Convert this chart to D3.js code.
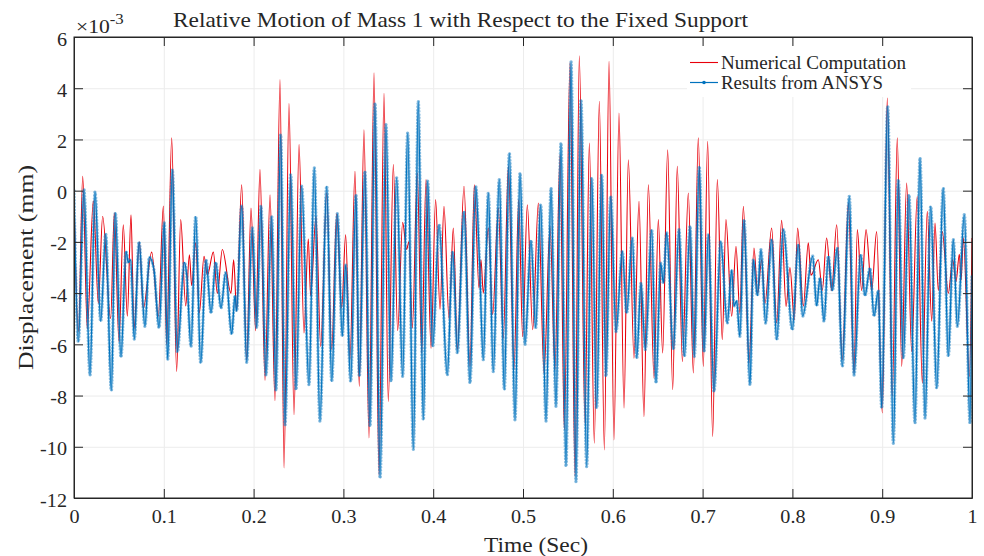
<!DOCTYPE html>
<html>
<head>
<meta charset="utf-8">
<script src="https://cdn.jsdelivr.net/npm/d3@7"></script>
<style>
body { margin: 0; background: #fff; }
text { font-family: "Liberation Serif", "Times New Roman", serif; fill: #262626; }
</style>
</head>
<body>
<svg id="chart" width="984" height="556"></svg>
<script>
// ticks
const xTicks = [0, 0.1, 0.2, 0.3, 0.4, 0.5, 0.6, 0.7, 0.8, 0.9, 1];
const yTicks = [6, 4, 2, 0, -2, -4, -6, -8, -10, -12];

const titleText = "Relative Motion of Mass 1 with Respect to the Fixed Support";
const xLabel = "Time (Sec)";
const yLabel = "Displacement (mm)";
const seriesNames = ["Numerical Computation", "Results from ANSYS"];

// [time (s), displacement (x1e-3 mm)] (turning points)
const numericalPts = [
  [0,-0.3],[0.005,-5.5],[0.0097,0.56],[0.0148,-5.4],[0.0215,-0.4],[0.0271,-4.4],[0.0319,-1.0],[0.0408,-5.0],[0.0449,-0.86],[0.0501,-5.9],
  [0.0549,-1.33],[0.0594,-4.9],[0.0635,-0.94],[0.0668,-5.4],[0.0728,-2.0],[0.0772,-4.6],[0.0865,-2.4],[0.0939,-4.9],[0.0995,-0.6],
  [0.1032,-6.0],[0.1088,2.06],[0.1143,-7.06],[0.1188,-1.13],[0.1244,-4.5],[0.1285,-2.5],[0.131,-3.7],[0.1355,-2.04],[0.1396,-4.77],
  [0.1448,-2.56],[0.1485,-3.3],[0.1552,-2.4],[0.1596,-4.0],[0.1652,-2.3],[0.1748,-4.0],[0.1778,-2.7],[0.1811,-4.7],[0.1867,0.23],
  [0.1923,-6.6],[0.1971,-0.68],[0.2023,-5.47],[0.2071,0.82],
  [0.2127,-7.4],[0.2183,-0.16],[0.2238,-8.2],[0.2294,4.34],[0.2339,-10.83],[0.2394,3.4],[0.245,-8.75],[0.2506,1.8],[0.2561,-5.56],
  [0.2609,-1.89],[0.2635,-4.1],[0.2695,-1.0],[0.2747,-6.08],[0.2814,-0.09],[0.287,-6.2],[0.2925,-0.9],[0.2981,-4.58],[0.3025,-1.72],
  [0.3073,-6.6],[0.3129,0.76],[0.3177,-7.64],
  [0.3229,2.38],[0.3285,-9.66],[0.3341,4.6],[0.3396,-11.1],[0.3452,3.8],[0.35,-8.23],[0.3556,1.02],[0.3604,-5.47],[0.366,-1.24],
  [0.3704,-2.3],[0.373,-2.0],[0.3768,-5.36],[0.3823,0.69],[0.3872,-6.34],[0.392,0.43],[0.3976,-6.15],[0.4027,-0.35],[0.4076,-4.64],
  [0.412,-0.61],[0.4176,-5.0],[0.4224,-1.46],
  [0.4269,-6.2],[0.4343,0.17],[0.441,-6.86],[0.4458,0.23],[0.451,-3.8],[0.4532,-2.7],[0.4558,-4.0],[0.4614,-1.46],[0.4662,-4.84],
  [0.4725,-0.68],[0.4781,-5.76],[0.4837,0.95],[0.49,-6.99],[0.4952,-0.35],[0.4996,-5.7],[0.5048,-0.55],[0.5108,-5.43],[0.5171,-0.48],
  [0.5234,-7.12],
  [0.5301,-1.39],[0.5356,-6.99],[0.5412,1.41],[0.546,-9.34],[0.5523,4.99],[0.5579,-11.16],[0.5627,5.27],[0.569,-9.08],[0.5739,1.86],
  [0.5794,-9.86],[0.585,3.49],[0.5906,-10.12],[0.5958,5.05],[0.6013,-9.73],[0.6069,3.03],[0.6125,-8.49],[0.6173,1.21],[0.6236,-6.54],
  [0.6292,-0.42],[0.6347,-8.82],
  [0.6396,0.23],[0.6459,-7.32],[0.6507,-1.13],[0.6555,-6.34],[0.6611,1.6],[0.6667,-7.77],[0.6718,0.95],[0.6775,-6.67],[0.6841,-0.09],
  [0.6897,-7.12],[0.6952,2.06],[0.7008,-6.86],[0.7056,1.93],[0.7112,-9.6],[0.7164,0.43],[0.7219,-5.82],[0.726,-1.13],[0.7324,-4.9],
  [0.7372,-2.17],
  [0.7415,-4.78],[0.7454,-0.61],[0.7517,-6.73],[0.7572,-2.24],[0.7613,-4.0],[0.7658,-2.7],[0.7695,-4.4],[0.7769,-1.46],[0.7825,-5.17],
  [0.788,-1.16],[0.7929,-4.52],[0.7973,-3.0],[0.8021,-5.04],[0.8058,-1.46],[0.8122,-4.5],[0.8177,-2.04],[0.8207,-3.3],[0.8289,-2.7],
  [0.8333,-3.9],[0.8381,-1.85],[0.8437,-3.9],
  [0.8493,-1.33],[0.8556,-6.6],[0.8623,-0.48],[0.8686,-7.12],[0.8723,-1.52],[0.8771,-3.9],[0.882,-1.52],[0.8883,-3.9],[0.8938,-1.6],
  [0.9001,-8.68],[0.9057,3.62],[0.9112,-8.03],[0.9168,2.06],[0.9217,-6.86],[0.9272,0.3],[0.9328,-6.28],[0.939,-0.22],[0.9447,-7.51],
  [0.9502,-0.81],[0.9551,-5.1],[0.9588,-1.26],[0.9625,-3.9],[0.9669,-1.6],[0.9736,-4.0],[0.9785,-2.7],[0.9822,-3.55],[0.9859,-2.48],
  [0.9878,-3.5],[0.9904,-1.85],[0.9971,-7.25],[1.0,-1.85]
];

const ansysPts = [
  [0,0],[0.0048,-5.9],[0.0111,0.04],[0.0178,-7.2],[0.0234,-0.05],[0.0297,-5.1],[0.0353,-1.7],[0.0416,-7.8],[0.046,-0.86],[0.0523,-6.5],
  [0.0579,-2.37],[0.0605,-2.8],[0.063,-2.7],[0.0672,-5.8],[0.0724,-2.0],[0.079,-5.3],[0.0839,-2.6],[0.0891,-3.1],[0.0947,-5.35],
  [0.1006,-1.26],
  [0.1043,-6.6],[0.1095,0.82],[0.115,-6.3],[0.1229,-2.8],[0.1255,-3.3],[0.1303,-6.08],[0.1355,-1.0],[0.1411,-6.73],[0.147,-2.7],
  [0.1526,-4.78],[0.1578,-2.8],[0.1637,-4.58],[0.1689,-3.2],[0.1756,-5.6],[0.1793,-4.1],[0.1811,-4.7],[0.1867,-0.6],[0.1923,-6.7],
  [0.1986,-1.46],[0.2034,-5.35],[0.2082,-0.6],
  [0.2138,-7.2],[0.2201,-1.0],[0.2249,-7.8],[0.2301,2.19],[0.235,-9.14],[0.2413,0.63],[0.2472,-7.77],[0.2535,0.17],[0.2617,-7.58],
  [0.2676,0.89],[0.2739,-9.0],[0.2814,0.17],[0.287,-7.45],[0.2933,-0.9],[0.2988,-5.69],[0.3025,-2.9],[0.3081,-7.45],[0.314,-0.16],
  [0.3177,-7.25],[0.324,0.76],[0.3296,-9.2],[0.3352,3.42],[0.3408,-11.22],[0.3474,2.58],[0.353,-7.45],[0.3593,0.5],[0.366,-7.25],
  [0.3716,2.25],[0.3779,-10.1],[0.3834,3.49],[0.389,-8.95],[0.3938,0.37],[0.3994,-6.08],[0.4065,-1.33],[0.4157,-7.19],[0.4217,-2.37],
  [0.4269,-6.34],[0.4343,-0.81],[0.441,-7.51],[0.4473,0.17],[0.4514,-2.6],[0.4558,-6.6],[0.4614,-0.09],[0.4669,-7.06],[0.4736,0.43],
  [0.4792,-7.77],[0.4848,1.47],[0.4911,-8.95],[0.4967,0.69],[0.5022,-6.0],[0.5089,-1.94],[0.5141,-5.35],[0.5197,-0.55],[0.5256,-9.0],
  [0.5312,0.1],[0.5367,-8.42],[0.5423,1.86],[0.5479,-10.77],[0.5535,5.03],[0.559,-11.36],[0.5646,3.55],[0.5709,-10.77],[0.5765,0.5],
  [0.582,-8.49],[0.5876,0.63],[0.5924,-7.25],[0.5976,-0.22],[0.6036,-5.5],[0.6106,-2.37],[0.6154,-4.78],[0.6218,-1.85],[0.6266,-6.54],
  [0.6314,-3.61],
  [0.6362,-6.2],[0.6433,-1.52],[0.6481,-7.51],[0.6533,-2.83],[0.6563,-3.6],[0.66,-1.65],[0.6674,-6.2],[0.6737,-1.52],[0.6797,-6.47],
  [0.686,-1.39],[0.6908,-6.47],[0.6963,0.95],[0.7016,-6.3],[0.7064,-1.72],[0.7127,-7.84],[0.7201,-1.98],[0.7275,-5.17],[0.7324,-3.09],
  [0.735,-4.5],[0.7379,-4.3],
  [0.7415,-5.69],[0.7461,-1.13],[0.7528,-7.58],[0.7565,-2.7],[0.761,-4.1],[0.765,-2.3],[0.7702,-5.17],[0.7769,-1.91],[0.7825,-5.82],
  [0.7899,-1.52],[0.7999,-5.43],[0.8066,-2.1],[0.8114,-4.9],[0.8226,-2.56],[0.827,-4.5],[0.8307,-3.4],[0.8352,-5.1],[0.84,-2.56],
  [0.8445,-3.9],
  [0.85,-2.24],[0.8556,-6.86],[0.8634,-0.22],[0.8686,-7.2],[0.876,-2.5],[0.8808,-4.1],[0.8864,-3.02],[0.8909,-4.9],[0.8957,-3.9],
  [0.8994,-8.49],[0.9061,3.29],[0.9124,-9.86],[0.9179,0.43],[0.9235,-6.54],[0.9298,-0.16],[0.9365,-9.08],[0.9421,1.28],[0.9477,-8.88],
  [0.954,-0.61],[0.9607,-7.71],[0.968,0.1],[0.9736,-6.47],[0.9792,-1.91],[0.9837,-5.3],[0.9915,-0.94],[0.9978,-9.08],[1.0,-3.3]
];

const SX = 1.12; // tick glyphs look a little wide in the picture
const redColor = "#e8000b";
const blueColor = "#0072bd";
const axisColor = "#262626";
const gridColor = "#ececec";

var svg = d3.select("#chart");
var x = d3.scaleLinear().domain([0, 1]).range([74, 972]);
var y = d3.scaleLinear().domain([-12, 6]).range([498, 37]);
const plotW = 898, plotH = 461;

function stretchTicks(g) {
    g.selectAll(".tick text").each(function () {
        const t = d3.select(this);
        const tx = +t.attr("x") || 0, ty = +t.attr("y") || 0;
        t.attr("x", 0).attr("y", 0).attr("transform", `translate(${tx},${ty}) scale(${SX},1)`);
    });
}

// grid
svg.append("g").attr("class", "grid").attr("transform", "translate(0,498)")
    .call(d3.axisBottom(x).tickValues(xTicks).tickSize(-plotH).tickFormat(""));
svg.append("g").attr("class", "grid").attr("transform", "translate(74,0)")
    .call(d3.axisLeft(y).tickValues(yTicks).tickSize(-plotW).tickFormat(""));
svg.selectAll(".grid .domain").remove();
svg.selectAll(".grid line").attr("stroke", gridColor);

// series
svg.append("clipPath").attr("id", "clip").append("rect")
    .attr("x", 74).attr("y", 37).attr("width", plotW).attr("height", plotH);

var line = d3.line()
    .x(function (d) { return x(d[0]) })
    .y(function (d) { return y(d[1]) })
    .curve(d3.curveMonotoneX);

var plot = svg.append("g").attr("clip-path", "url(#clip)");

plot.append("path").datum(numericalPts)
    .attr("d", line).attr("fill", "none")
    .attr("stroke", redColor).attr("stroke-width", 1.1);

// '.' markers of the ANSYS curve: round dashes of zero length along the same path
plot.append("path").datum(ansysPts)
    .attr("d", line).attr("fill", "none")
    .attr("stroke", blueColor).attr("stroke-opacity", 0.5)
    .attr("stroke-width", 3.4).attr("stroke-linecap", "round")
    .attr("stroke-dasharray", "0 3.2");

plot.append("path").datum(ansysPts)
    .attr("d", line).attr("fill", "none")
    .attr("stroke", blueColor).attr("stroke-width", 1.2);

// axes with inward ticks
const tickLen = 9;
svg.append("g").attr("class", "axis").attr("transform", "translate(0,498)")
    .call(d3.axisBottom(x).tickValues(xTicks).tickSizeInner(-tickLen).tickSizeOuter(0).tickPadding(12)
        .tickFormat(d => String(+d.toFixed(1))))
    .call(stretchTicks);
svg.append("g").attr("class", "axis").attr("transform", "translate(0,37)")
    .call(d3.axisTop(x).tickValues(xTicks).tickSizeInner(-tickLen).tickSizeOuter(0).tickFormat(""));
svg.append("g").attr("class", "axis").attr("transform", "translate(74,0)")
    .call(d3.axisLeft(y).tickValues(yTicks).tickSizeInner(-tickLen).tickSizeOuter(0).tickPadding(7)
        .tickFormat(d => String(d)))
    .call(g => g.selectAll("text").attr("dy", "0.45em"))
    .call(stretchTicks);
svg.append("g").attr("class", "axis").attr("transform", "translate(972,0)")
    .call(d3.axisRight(y).tickValues(yTicks).tickSizeInner(-tickLen).tickSizeOuter(0).tickFormat(""));
svg.selectAll(".axis .domain, .axis .tick line").attr("stroke", axisColor);
svg.selectAll(".axis text").attr("font-size", 18).attr("fill", axisColor)
    .attr("font-family", "Liberation Serif, Times New Roman, serif");
svg.append("rect").attr("x", 74).attr("y", 37).attr("width", plotW).attr("height", plotH)
    .attr("fill", "none").attr("stroke", axisColor).attr("stroke-width", 1);

// exponent
var expo = svg.append("text").attr("transform", "translate(76,33) scale(1.2,1)").attr("font-size", 18);
expo.append("tspan").text("\u00d710");
expo.append("tspan").attr("font-size", 14).attr("dy", -9).text("-3");

// legend
var legend = svg.append("g");
legend.append("rect").attr("x", 687).attr("y", 46).attr("width", 224).attr("height", 51).attr("fill", "#fff");
legend.append("line").attr("x1", 690).attr("x2", 718).attr("y1", 62.5).attr("y2", 62.5)
    .attr("stroke", redColor).attr("stroke-width", 1.1);
legend.append("line").attr("x1", 690).attr("x2", 718).attr("y1", 82.5).attr("y2", 82.5)
    .attr("stroke", blueColor).attr("stroke-width", 1.2);
legend.append("circle").attr("cx", 704).attr("cy", 82.5).attr("r", 1.8).attr("fill", blueColor);
const legendWidths = [185, 162];
seriesNames.forEach(function (name, i) {
    legend.append("text").attr("x", 721).attr("y", 68.5 + i * 20)
        .attr("font-size", 18).attr("textLength", legendWidths[i]).attr("lengthAdjust", "spacingAndGlyphs")
        .text(name);
});

// title and labels
svg.append("text").attr("x", 173).attr("y", 27)
    .attr("font-size", 21).attr("textLength", 575).attr("lengthAdjust", "spacingAndGlyphs")
    .text(titleText);
svg.append("text").attr("x", 484).attr("y", 552)
    .attr("font-size", 21).attr("textLength", 104).attr("lengthAdjust", "spacingAndGlyphs")
    .text(xLabel);
svg.append("text").attr("transform", "translate(33,370) rotate(-90)")
    .attr("font-size", 22).attr("textLength", 205).attr("lengthAdjust", "spacingAndGlyphs")
    .text(yLabel);
</script>
</body>
</html>
